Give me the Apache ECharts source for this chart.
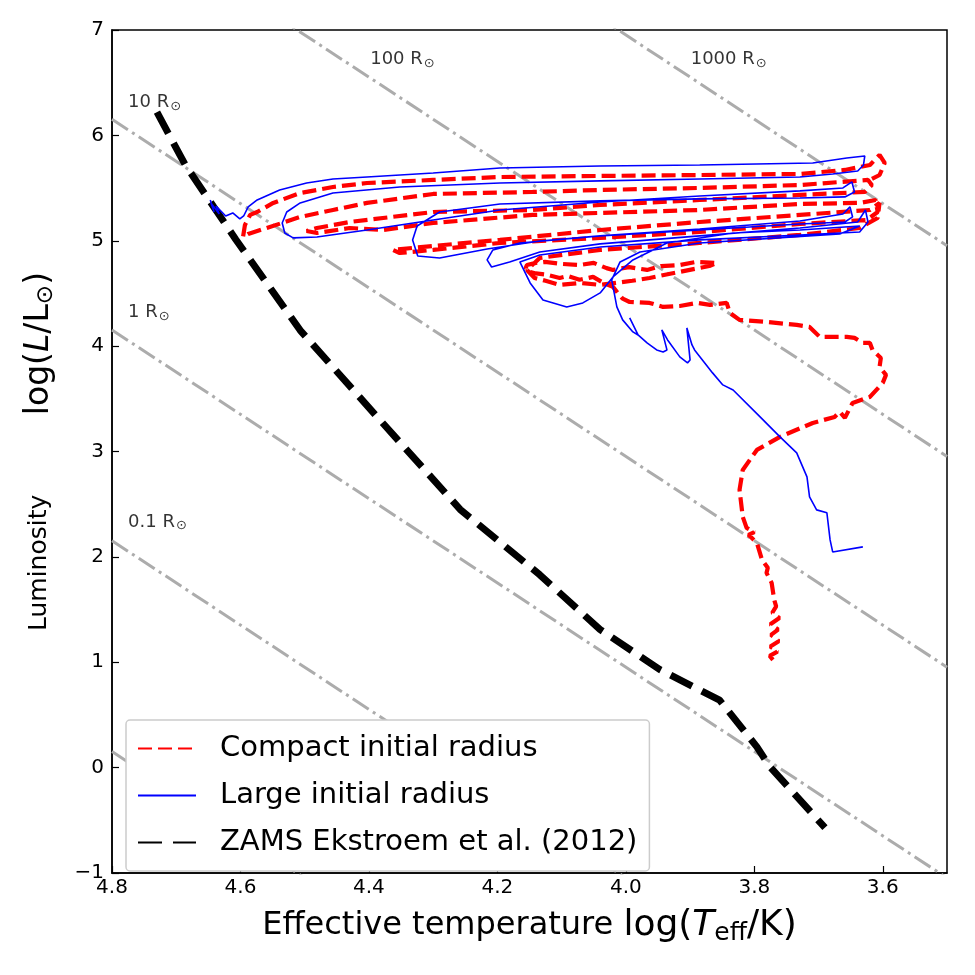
<!DOCTYPE html>
<html><head><meta charset="utf-8">
<script src="https://cdn.jsdelivr.net/npm/echarts@6/dist/echarts.min.js"></script>
<style>html,body{margin:0;padding:0;background:#fff}#c{width:975px;height:975px}</style>
</head><body><div id="c"></div>
<script>
// ---- data ----
const xTickValues = [4.8, 4.6, 4.4, 4.2, 4.0, 3.8, 3.6];
const yTickValues = [-1, 0, 1, 2, 3, 4, 5, 6, 7];

// constant-radius lines: [logT, logL] at the left edge and at the right edge
const radiusNames = ['0.01', '0.1', '1', '10', '100', '1000'];
const radiusLeft = [[4.8, 0.153], [4.8, 2.153], [4.8, 4.153], [4.8, 6.153], [4.8, 8.153], [4.8, 10.153]];
const radiusRight = [[3.5, -5.047], [3.5, -3.047], [3.5, -1.047], [3.5, 0.953], [3.5, 2.953], [3.5, 4.953]];
const radiusLabelText = ['10', '1', '0.1', '100', '1000'];
const radiusLabelPos = [[4.775, 6.31], [4.775, 4.32], [4.775, 2.33], [4.398, 6.72], [3.899, 6.72]];

const zams = [[4.73,6.22],[4.686,5.72],[4.607,5.01],[4.507,4.15],[4.383,3.30],[4.258,2.45],[4.134,1.83],[4.04,1.31],[3.947,0.93],[3.854,0.64],[3.796,0.197],[3.776,0.01],[3.69,-0.57]];

const largeRadius = [[4.647,5.387],[4.641,5.273],[4.646,5.359],[4.633,5.254],[4.638,5.330],[4.623,5.235],[4.612,5.264],[4.601,5.207],[4.595,5.235],[4.588,5.321],[4.574,5.387],[4.539,5.482],[4.497,5.548],[4.456,5.586],[4.403,5.605],[4.300,5.643],[4.196,5.691],[4.040,5.710],[3.885,5.719],[3.709,5.738],[3.656,5.786],[3.628,5.805],[3.630,5.719],[3.639,5.662],[3.678,5.634],[3.729,5.605],[3.885,5.586],[4.040,5.568],[4.196,5.548],[4.352,5.510],[4.456,5.453],[4.507,5.359],[4.528,5.273],[4.535,5.169],[4.531,5.074],[4.518,5.027],[4.481,5.036],[4.403,5.102],[4.300,5.197],[4.196,5.292],[4.040,5.368],[3.885,5.425],[3.729,5.473],[3.662,5.501],[3.648,5.558],[3.644,5.463],[3.659,5.416],[3.729,5.406],[3.885,5.397],[4.040,5.378],[4.196,5.349],[4.290,5.273],[4.325,5.140],[4.332,5.008],[4.324,4.856],[4.290,4.837],[4.216,4.922],[4.134,4.998],[4.040,5.046],[3.885,5.112],[3.729,5.188],[3.662,5.254],[3.651,5.321],[3.647,5.226],[3.659,5.178],[3.729,5.159],[3.885,5.102],[4.040,5.046],[4.165,4.979],[4.207,4.913],[4.216,4.818],[4.209,4.751],[4.181,4.799],[4.134,4.894],[4.040,4.970],[3.885,5.046],[3.729,5.121],[3.639,5.178],[3.627,5.292],[3.623,5.178],[3.636,5.083],[3.729,5.055],[3.885,5.008],[4.040,4.941],[4.134,4.865],[4.165,4.799],[4.149,4.600],[4.129,4.438],[4.092,4.372],[4.067,4.410],[4.040,4.505],[4.020,4.657],[3.989,4.818],[3.936,4.979],[3.833,5.074],[3.729,5.102],[3.636,5.140],[3.667,5.065],[3.885,4.979],[3.978,4.894],[4.009,4.799],[4.022,4.628],[4.014,4.372],[4.005,4.249],[3.989,4.135],[3.981,4.106],[3.994,4.268],[3.981,4.106],[3.967,4.030],[3.952,3.964],[3.942,3.945],[3.936,3.964],[3.944,4.154],[3.935,4.059],[3.916,3.898],[3.904,3.841],[3.900,3.869],[3.905,4.173],[3.897,4.011],[3.893,3.964],[3.865,3.746],[3.849,3.632],[3.833,3.584],[3.791,3.328],[3.760,3.139],[3.734,2.987],[3.718,2.759],[3.714,2.569],[3.703,2.446],[3.687,2.418],[3.682,2.161],[3.678,2.047],[3.631,2.095]];

const compactRadius = [[3.771,1.023],[3.776,1.06],[3.764,1.10],[3.775,1.15],[3.762,1.20],[3.774,1.26],[3.763,1.31],[3.775,1.36],[3.761,1.42],[3.772,1.47],[3.766,1.53],[3.769,1.592],[3.773,1.753],[3.781,1.848],[3.779,1.896],[3.788,1.972],[3.796,2.133],[3.809,2.209],[3.800,2.235],[3.812,2.275],[3.818,2.380],[3.823,2.636],[3.818,2.825],[3.796,3.015],[3.760,3.139],[3.709,3.271],[3.675,3.328],[3.667,3.376],[3.659,3.319],[3.647,3.461],[3.620,3.518],[3.600,3.651],[3.595,3.727],[3.605,3.803],[3.603,3.888],[3.616,3.964],[3.620,4.030],[3.631,4.030],[3.644,4.078],[3.656,4.087],[3.698,4.087],[3.706,4.135],[3.714,4.182],[3.734,4.201],[3.781,4.230],[3.823,4.249],[3.838,4.315],[3.843,4.410],[3.869,4.391],[3.889,4.410],[3.916,4.381],[3.942,4.372],[3.963,4.410],[3.994,4.419],[4.005,4.45],[4.012,4.50],[4.020,4.562],[4.035,4.60],[4.051,4.657],[4.072,4.63],[4.090,4.665],[4.103,4.647],[4.125,4.68],[4.140,4.69],[4.149,4.704],[4.156,4.74],[4.154,4.770],[4.140,4.79],[4.126,4.799],[4.100,4.78],[4.072,4.770],[4.050,4.79],[4.030,4.74],[4.020,4.723],[3.995,4.75],[3.967,4.723],[3.945,4.76],[3.916,4.770],[3.890,4.80],[3.858,4.789],[3.870,4.76],[3.885,4.742],[3.920,4.70],[3.963,4.647],[3.990,4.62],[4.015,4.60],[4.040,4.581],[4.070,4.60],[4.103,4.581],[4.125,4.62],[4.142,4.647],[4.154,4.723],[4.134,4.837],[4.040,4.913],[3.885,4.979],[3.729,5.055],[3.636,5.121],[3.608,5.216],[3.605,5.359],[3.620,5.292],[3.729,5.245],[3.885,5.178],[4.040,5.102],[4.196,5.008],[4.300,4.951],[4.363,4.913],[4.352,4.884],[4.300,4.913],[4.196,4.979],[4.040,5.027],[3.885,5.083],[3.729,5.159],[3.625,5.197],[3.608,5.273],[3.611,5.387],[3.636,5.359],[3.729,5.349],[3.885,5.292],[4.040,5.264],[4.145,5.245],[4.300,5.169],[4.378,5.102],[4.430,5.121],[4.481,5.074],[4.497,5.093],[4.481,5.121],[4.430,5.178],[4.300,5.273],[4.145,5.292],[4.040,5.340],[3.885,5.387],[3.729,5.435],[3.628,5.463],[3.617,5.529],[3.623,5.577],[3.729,5.529],[3.885,5.501],[4.040,5.482],[4.145,5.463],[4.300,5.444],[4.403,5.359],[4.456,5.292],[4.507,5.226],[4.559,5.121],[4.588,5.065],[4.596,5.036],[4.593,5.150],[4.585,5.245],[4.574,5.273],[4.549,5.359],[4.507,5.453],[4.456,5.510],[4.403,5.548],[4.300,5.577],[4.196,5.605],[4.040,5.615],[3.885,5.624],[3.729,5.634],[3.659,5.672],[3.620,5.719],[3.605,5.814],[3.597,5.738],[3.605,5.624],[3.620,5.577]];

const seriesNames = ['Compact initial radius', 'Large initial radius', 'ZAMS Ekstroem et al. (2012)'];

// ---- chart ----
const FONT = 'DejaVu Sans';
const chart = echarts.init(document.getElementById('c'), null, {renderer: 'canvas'});

const series = [];
radiusNames.forEach((r, i) => {
  series.push({
    type: 'line', name: 'R' + r, data: [radiusLeft[i], radiusRight[i]],
    symbol: 'none', silent: true, z: 1, clip: true,
    lineStyle: {color: '#acacac', width: 3, type: [19, 5, 3, 5]}
  });
});
series.push({
  type: 'scatter', name: 'rlabels', symbolSize: 0, silent: true, z: 5,
  data: radiusLabelPos.map((p, i) => [p[0], p[1], radiusLabelText[i]]),
  label: {
    show: true, position: 'right', distance: 0, color: '#000',
    formatter: p => '{a|' + p.data[2] + ' R}{b|⊙}',
    rich: {
      a: {fontFamily: FONT, fontSize: 18, color: '#000'},
      b: {fontFamily: FONT, fontSize: 13, color: '#000', padding: [8, 0, 0, 1]}
    }
  }
});
series.push({
  type: 'line', name: seriesNames[2], data: zams, symbol: 'none', z: 3,
  itemStyle: {color: '#000'},
  lineStyle: {color: '#000', width: 7, type: [24, 11]}
});
series.push({
  type: 'line', name: seriesNames[0], data: compactRadius, symbol: 'none', z: 4,
  itemStyle: {color: '#ff0000'},
  lineStyle: {color: '#ff0000', width: 4.2, type: [14, 6]}
});
series.push({
  type: 'line', name: seriesNames[1], data: largeRadius, symbol: 'none', z: 6,
  itemStyle: {color: '#0000ff'},
  lineStyle: {color: '#0000ff', width: 1.6, type: 'solid'}
});

const yRich = {
  n: {fontFamily: FONT, fontSize: 25, color: '#000'},
  m: {fontFamily: FONT, fontSize: 33, color: '#000'},
  i: {fontFamily: FONT, fontSize: 33, fontStyle: 'italic', color: '#000'},
  s: {fontFamily: FONT, fontSize: 23, color: '#000', padding: [15, 0, 0, 0]}
};
const xRich = {
  n: {fontFamily: FONT, fontSize: 32, color: '#000'},
  m: {fontFamily: FONT, fontSize: 36, color: '#000'},
  i: {fontFamily: FONT, fontSize: 36, fontStyle: 'italic', color: '#000'},
  s: {fontFamily: FONT, fontSize: 25, color: '#000', padding: [16, 0, 0, 0]}
};

const option = {
  animation: false,
  backgroundColor: '#fff',
  grid: {left: 112, right: 28, top: 30, bottom: 102, show: true, borderColor: '#000', borderWidth: 1.5, containLabel: false},
  xAxis: {
    type: 'value', min: 3.5, max: 4.8, inverse: true,
    name: '{n|Effective temperature }{m|log(}{i|T}{s|eff}{m|/K)}',
    nameLocation: 'middle', nameGap: 32,
    nameTextStyle: {rich: xRich},
    splitLine: {show: false},
    axisLine: {show: true, onZero: false, lineStyle: {color: '#000', width: 1.5}},
    axisTick: {show: true, inside: true, length: 7, customValues: xTickValues, lineStyle: {color: '#000', width: 1.2}},
    axisLabel: {customValues: xTickValues, fontFamily: FONT, fontSize: 20, color: '#000', margin: 5, formatter: v => v.toFixed(1)}
  },
  yAxis: {
    type: 'value', min: -1, max: 7, interval: 1,
    name: '{n|Luminosity          }{m|log(}{i|L}{m|/L}{s|⊙}{m|)}',
    nameLocation: 'middle', nameGap: 54, nameRotate: 90,
    nameTextStyle: {rich: yRich},
    splitLine: {show: false},
    axisLine: {show: true, onZero: false, lineStyle: {color: '#000', width: 1.5}},
    axisTick: {show: true, inside: true, length: 7, lineStyle: {color: '#000', width: 1.2}},
    axisLabel: {fontFamily: FONT, fontSize: 20, color: '#000', margin: 8, formatter: v => String(v).replace('-', '\u2212')}
  },
  legend: {
    orient: 'vertical', left: 126, top: 720,
    data: seriesNames,
    itemWidth: 58, itemHeight: 14, itemGap: 16,
    itemStyle: {color: 'rgba(0,0,0,0)', borderWidth: 0, opacity: 0},
    textStyle: {fontFamily: FONT, fontSize: 29, lineHeight: 31, color: '#000', padding: [0, 0, 0, 19]},
    backgroundColor: '#fff', borderColor: '#cccccc', borderWidth: 1.5, borderRadius: 4,
    padding: [13, 12, 13, 11]
  },
  series: series
};
chart.setOption(option);
</script>
</body></html>
